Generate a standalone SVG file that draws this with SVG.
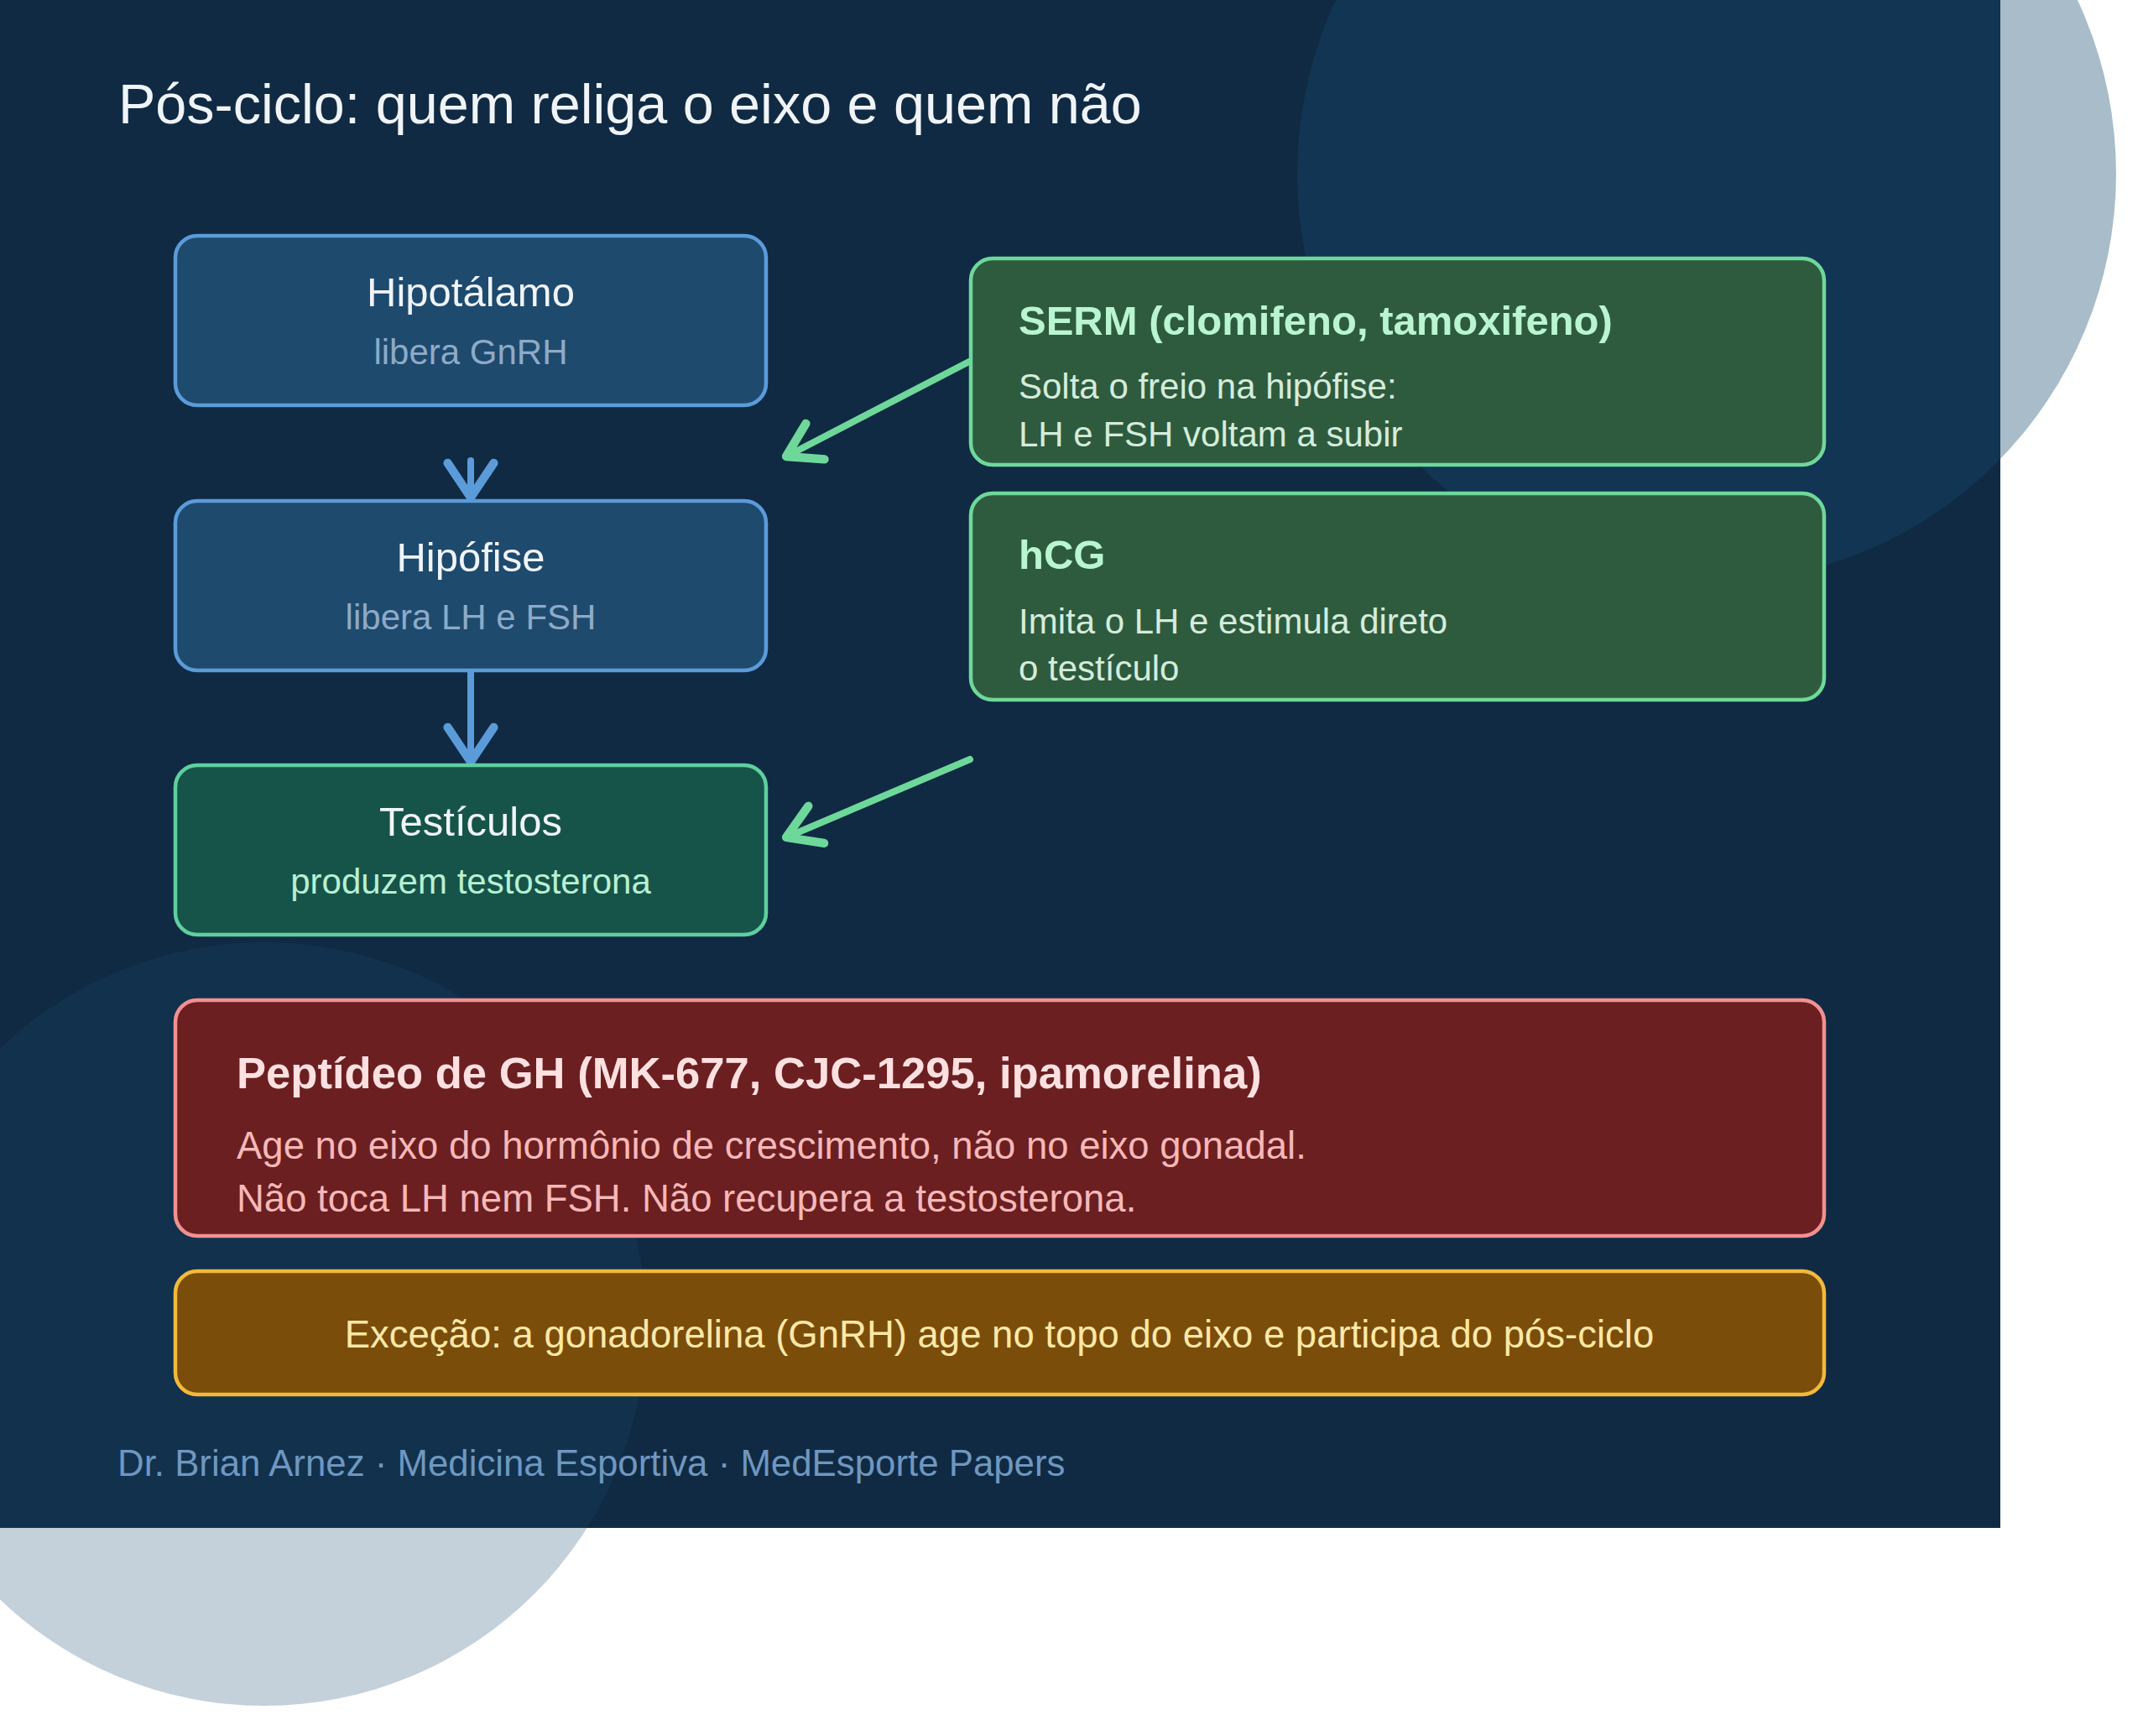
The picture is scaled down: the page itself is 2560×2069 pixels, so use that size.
<svg xmlns="http://www.w3.org/2000/svg" width="2560" height="2069" viewBox="0 0 2560 2069">
  <style>
    text { font-family: "Liberation Sans", Arial, sans-serif; }
    .ntitle { font-size: 49px; fill: #f0f4f8; text-anchor: middle; }
    .nsub { font-size: 42px; text-anchor: middle; }
    .blue rect { fill: #1e4a6e; stroke: #5b9bd9; stroke-width: 4.5; }
    .blue .nsub { fill: #8eaac7; }
    .teal rect { fill: #16544a; stroke: #5fcf9f; stroke-width: 4.5; }
    .teal .nsub { fill: #b8f0d2; }
    .green rect { fill: #2e5b3e; stroke: #6ed89a; stroke-width: 4.5; }
    .gtitle { font-size: 49px; font-weight: bold; fill: #b9f5d0; }
    .gbody { font-size: 42px; fill: #d5ecdc; }
    .red rect { fill: #6b1f21; stroke: #f29191; stroke-width: 4.5; }
    .rtitle { font-size: 52.6px; font-weight: bold; fill: #ffe0e0; }
    .rbody { font-size: 45.5px; fill: #f7b8b8; }
    .amber rect { fill: #7a4d0a; stroke: #f2b93b; stroke-width: 4.5; }
    .atext { font-size: 45.5px; fill: #fde8a8; text-anchor: middle; }
    .conn { fill: none; stroke-width: 8; stroke-linecap: round; }
    .cblue { stroke: #5b9bd9; }
    .cgreen { stroke: #6ed89a; }
  </style>
  <defs>
    <marker id="arrBlue" markerUnits="userSpaceOnUse" orient="auto" refX="0" refY="0" markerWidth="80" markerHeight="80" viewBox="-45 -35 55 70" overflow="visible">
      <path d="M-36,-24 L0,0 L-36,24" fill="none" stroke="#5b9bd9" stroke-width="9" stroke-linecap="round" stroke-linejoin="round"/>
    </marker>
    <marker id="arrGreen" markerUnits="userSpaceOnUse" orient="auto" refX="0" refY="0" markerWidth="80" markerHeight="80" viewBox="-45 -35 55 70" overflow="visible">
      <path d="M-34,-21 L0,0 L-34,21" fill="none" stroke="#6ed89a" stroke-width="9" stroke-linecap="round" stroke-linejoin="round"/>
    </marker>
  </defs>

  <rect x="0" y="0" width="2560" height="2069" fill="#ffffff"/>
  <rect x="0" y="0" width="2384" height="1821" fill="#102a43"/>
  <circle cx="2034" cy="207" r="488" fill="#14486d" fill-opacity="0.37"/>
  <circle cx="315" cy="1578" r="455" fill="#14486d" fill-opacity="0.25"/>

  <text x="141" y="147" font-size="66.5" fill="#f0f4f8">Pós-ciclo: quem religa o eixo e quem não</text>

  <g id="connectors">
    <path class="conn cblue" d="M561,549 L561,593" marker-end="url(#arrBlue)"/>
    <path class="conn cblue" d="M561,802 L561,908" marker-end="url(#arrBlue)"/>
    <path class="conn cgreen" d="M1155,431 L937,544" marker-end="url(#arrGreen)"/>
    <path class="conn cgreen" d="M1156,905 L937,998" marker-end="url(#arrGreen)"/>
  </g>

  <g id="hipotalamo" class="blue">
    <rect x="209" y="281" width="704" height="202" rx="26"/>
    <text class="ntitle" x="561" y="365">Hipotálamo</text>
    <text class="nsub" x="561" y="434">libera GnRH</text>
  </g>
  <g id="hipofise" class="blue">
    <rect x="209" y="597" width="704" height="202" rx="26"/>
    <text class="ntitle" x="561" y="681">Hipófise</text>
    <text class="nsub" x="561" y="750">libera LH e FSH</text>
  </g>
  <g id="testiculos" class="teal">
    <rect x="209" y="912" width="704" height="202" rx="26"/>
    <text class="ntitle" x="561" y="996">Testículos</text>
    <text class="nsub" x="561" y="1065">produzem testosterona</text>
  </g>

  <g id="serm" class="green">
    <rect x="1157" y="308" width="1017" height="246" rx="26"/>
    <text class="gtitle" x="1214" y="399">SERM (clomifeno, tamoxifeno)</text>
    <text class="gbody" x="1214" y="475">Solta o freio na hipófise:</text>
    <text class="gbody" x="1214" y="532">LH e FSH voltam a subir</text>
  </g>
  <g id="hcg" class="green">
    <rect x="1157" y="588" width="1017" height="246" rx="26"/>
    <text class="gtitle" x="1214" y="678">hCG</text>
    <text class="gbody" x="1214" y="755">Imita o LH e estimula direto</text>
    <text class="gbody" x="1214" y="811">o testículo</text>
  </g>

  <g id="peptideo" class="red">
    <rect x="209" y="1192" width="1965" height="281" rx="26"/>
    <text class="rtitle" x="282" y="1297">Peptídeo de GH (MK-677, CJC-1295, ipamorelina)</text>
    <text class="rbody" x="282" y="1381">Age no eixo do hormônio de crescimento, não no eixo gonadal.</text>
    <text class="rbody" x="282" y="1444">Não toca LH nem FSH. Não recupera a testosterona.</text>
  </g>

  <g id="excecao" class="amber">
    <rect x="209" y="1515" width="1965" height="147" rx="26"/>
    <text class="atext" x="1191" y="1606">Exceção: a gonadorelina (GnRH) age no topo do eixo e participa do pós-ciclo</text>
  </g>

  <text x="140" y="1759" font-size="43.8" fill="#6f97c0">Dr. Brian Arnez · Medicina Esportiva · MedEsporte Papers</text>
</svg>
